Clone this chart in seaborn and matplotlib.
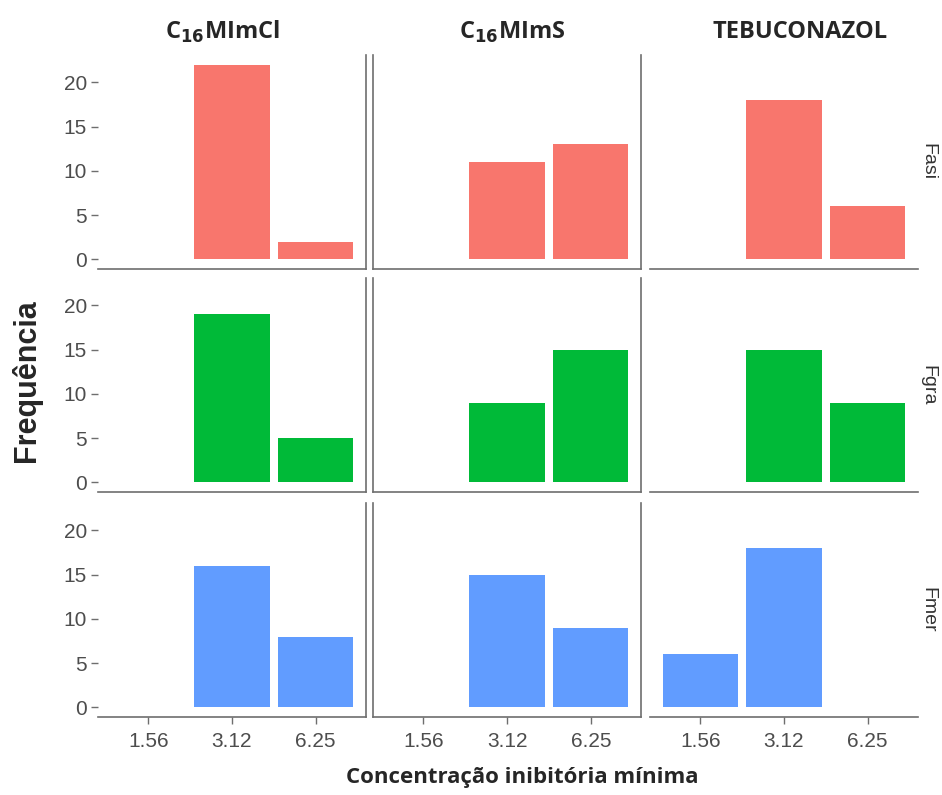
import matplotlib
matplotlib.use("Agg")
import matplotlib.pyplot as plt
import seaborn as sns
import pandas as pd

# Minimum inhibitory concentration classes (x axis)
concentrations = ["1.56", "3.12", "6.25"]

# Compounds (columns) and fungal species (rows)
compounds = ["C16MImCl", "C16MImS", "TEBUCONAZOL"]
compound_titles = [r"C$_{\mathbf{16}}$MImCl", r"C$_{\mathbf{16}}$MImS", "TEBUCONAZOL"]
species = ["Fasi", "Fgra", "Fmer"]

# Frequencies per species, one list per compound (values for 1.56, 3.12, 6.25)
fasi_c16mimcl = [0, 22, 2]
fasi_c16mims = [0, 11, 13]
fasi_tebuconazol = [0, 18, 6]

fgra_c16mimcl = [0, 19, 5]
fgra_c16mims = [0, 9, 15]
fgra_tebuconazol = [0, 15, 9]

fmer_c16mimcl = [0, 16, 8]
fmer_c16mims = [0, 15, 9]
fmer_tebuconazol = [6, 18, 0]

species_colors = ["#F8766D", "#00BA38", "#619CFF"]

table = {
    "Fasi": [fasi_c16mimcl, fasi_c16mims, fasi_tebuconazol],
    "Fgra": [fgra_c16mimcl, fgra_c16mims, fgra_tebuconazol],
    "Fmer": [fmer_c16mimcl, fmer_c16mims, fmer_tebuconazol],
}
rows = []
for sp in species:
    for comp, vals in zip(compounds, table[sp]):
        for conc, v in zip(concentrations, vals):
            rows.append({"species": sp, "compound": comp, "cmi": conc, "freq": v})
df = pd.DataFrame(rows)

sns.set_theme(style="white")
plt.rcParams["font.family"] = ["Liberation Sans", "DejaVu Sans"]

W, H = 942, 795
fig = plt.figure(figsize=(W / 100, H / 100), dpi=100)

col_left = [98, 373, 650]
col_width = 268
row_top = [55, 278, 503]
row_height = 214
title_x = [222, 512, 800]

line_color = "#6e6e6e"
tick_color = "#4d4d4d"

for r, sp in enumerate(species):
    for c, comp in enumerate(compounds):
        ax = fig.add_axes([col_left[c] / W, 1 - (row_top[r] + row_height) / H,
                           col_width / W, row_height / H])
        sub = df[(df["species"] == sp) & (df["compound"] == comp)]
        sns.barplot(data=sub, x="cmi", y="freq", order=concentrations,
                    color=species_colors[r], width=0.9, errorbar=None,
                    linewidth=0, saturation=1, ax=ax)
        ax.set_xlim(-0.6, 2.6)
        ax.set_ylim(-1.1, 23.1)
        ax.set_yticks([0, 5, 10, 15, 20])
        ax.set_xlabel("")
        ax.set_ylabel("")
        ax.set_facecolor("white")

        for s in ax.spines.values():
            s.set_visible(False)
            s.set_color(line_color)
            s.set_linewidth(1.2)
        ax.spines["bottom"].set_visible(True)
        if c == 0:
            ax.spines["right"].set_visible(True)
        elif c == 1:
            ax.spines["left"].set_visible(True)
            ax.spines["right"].set_visible(True)

        ax.tick_params(axis="both", colors=line_color, labelcolor=tick_color,
                       labelsize=15, length=5, width=1.0, direction="out")
        if c == 0:
            ax.tick_params(axis="y", left=True, labelleft=True, pad=3)
        else:
            ax.tick_params(axis="y", left=False, labelleft=False)
        if r == 2:
            ax.tick_params(axis="x", bottom=True, labelbottom=True, pad=6)
        else:
            ax.tick_params(axis="x", bottom=False, labelbottom=False)

        if c == 2:
            ax.text(1 + 10 / col_width, 0.5, sp, transform=ax.transAxes,
                    rotation=-90, ha="center", va="center", fontsize=14,
                    color="#333333")

for tx, title in zip(title_x, compound_titles):
    fig.text(tx / W, 1 - 32 / H, title, ha="center", va="center",
             fontsize=17, fontweight="bold", family=["Open Sans", "DejaVu Sans"])

fig.text(522 / W, 1 - 777 / H, "Concentração inibitória mínima",
         ha="center", va="center", fontsize=16, fontweight="bold",
         family=["Open Sans", "DejaVu Sans"])
fig.text(27 / W, 1 - 381 / H, "Frequência", rotation=90, ha="center",
         va="center", fontsize=22, fontweight="bold")

fig.savefig("out.png", dpi=100, facecolor="white")
